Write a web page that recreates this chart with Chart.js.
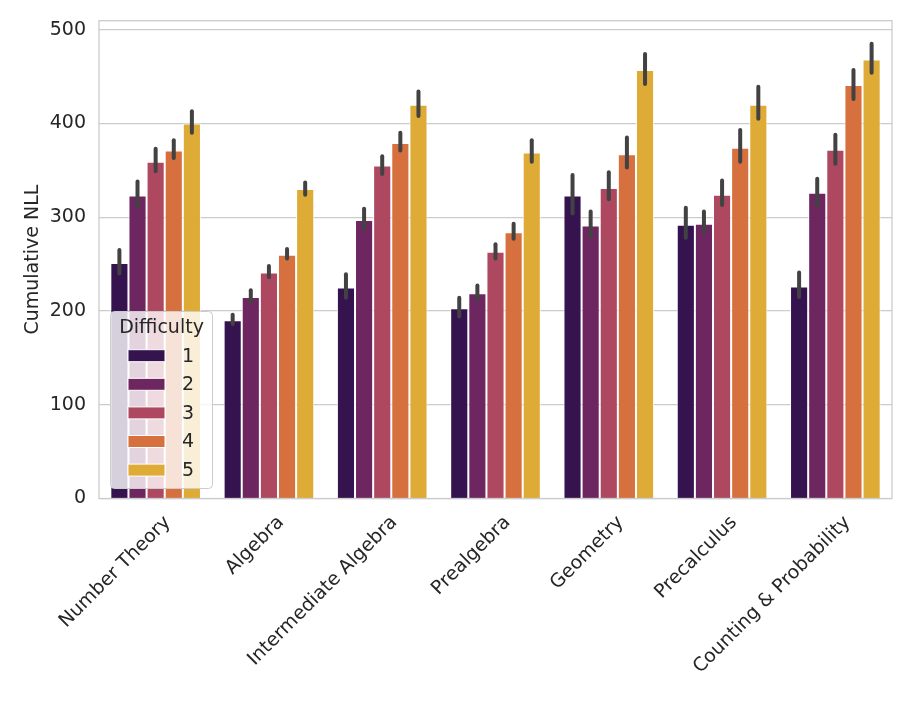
<!DOCTYPE html>
<html>
<head>
<meta charset="utf-8">
<script src="https://cdn.jsdelivr.net/npm/chart.js@4"></script>
<style>
  html, body { margin: 0; padding: 0; background: #fff; }
</style>
</head>
<body>
<canvas id="myChart" width="914" height="703"></canvas>
<script>
const categories = ["Number Theory", "Algebra", "Intermediate Algebra", "Prealgebra", "Geometry", "Precalculus", "Counting & Probability"];
const difficulties = ["1", "2", "3", "4", "5"];
const colors = ["#34134f", "#6e2661", "#ad4860", "#d6703f", "#dfab37"];
const yTicks = [0, 100, 200, 300, 400, 500];

// mean cumulative NLL per difficulty
const level1 = [251, 190, 225, 203, 323, 292, 226];
const level2 = [323, 215, 297, 219, 291, 293, 326];
const level3 = [359, 241, 355, 263, 331, 324, 372];
const level4 = [371, 260, 379, 284, 367, 374, 441];
const level5 = [400, 330, 420, 369, 457, 420, 468];

// confidence interval ends
const low1 = [240, 186, 214, 194, 304, 278, 215];
const high1 = [265, 196, 239, 214, 345, 310, 241];
const low2 = [311, 209, 287, 212, 279, 284, 312];
const high2 = [338, 222, 309, 227, 306, 306, 341];
const low3 = [349, 236, 346, 256, 319, 313, 357];
const high3 = [373, 248, 365, 271, 348, 339, 388];
const low4 = [363, 256, 371, 277, 353, 359, 426];
const high4 = [382, 266, 390, 293, 385, 393, 457];
const low5 = [390, 324, 408, 359, 442, 405, 454];
const high5 = [413, 337, 434, 382, 474, 439, 485];

const means = [level1, level2, level3, level4, level5];
const lows = [low1, low2, low3, low4, low5];
const highs = [high1, high2, high3, high4, high5];

const FONT = "'DejaVu Sans', sans-serif";
const TEXT = "#262626";
const FS = 19;

const datasets = difficulties.map((d, i) => ({
    label: d,
    data: means[i],
    backgroundColor: colors[i],
    borderColor: "rgba(255,255,255,0.85)",
    borderWidth: 1,
    categoryPercentage: 0.8,
    barPercentage: 1.0,
}));

// frame around the axes like seaborn whitegrid
const framePlugin = {
    id: "frame",
    afterDatasetsDraw(chart) {
        const { ctx, chartArea: a } = chart;
        ctx.save();
        ctx.strokeStyle = "#cccccc";
        ctx.lineWidth = 1.3;
        ctx.strokeRect(a.left, a.top, a.right - a.left, a.bottom - a.top);
        ctx.restore();
    },
};

const errorBarPlugin = {
    id: "errorBars",
    afterDatasetsDraw(chart) {
        const ctx = chart.ctx;
        const yScale = chart.scales.y;
        ctx.save();
        ctx.strokeStyle = "#424242";
        ctx.lineWidth = 4;
        ctx.lineCap = "round";
        chart.data.datasets.forEach((ds, i) => {
            const meta = chart.getDatasetMeta(i);
            meta.data.forEach((bar, j) => {
                ctx.beginPath();
                ctx.moveTo(bar.x, yScale.getPixelForValue(lows[i][j]));
                ctx.lineTo(bar.x, yScale.getPixelForValue(highs[i][j]));
                ctx.stroke();
            });
        });
        ctx.restore();
    },
};

const legendPlugin = {
    id: "insideLegend",
    afterDraw(chart) {
        const ctx = chart.ctx;
        const x = 110.5, y = 311.5, w = 102, h = 177;
        ctx.save();
        ctx.beginPath();
        ctx.roundRect(x, y, w, h, 4);
        ctx.fillStyle = "rgba(255,255,255,0.8)";
        ctx.fill();
        ctx.strokeStyle = "#cccccc";
        ctx.lineWidth = 1;
        ctx.stroke();

        ctx.fillStyle = TEXT;
        ctx.font = FS + "px " + FONT;
        ctx.textAlign = "center";
        ctx.textBaseline = "middle";
        ctx.fillText("Difficulty", x + w / 2, 328);

        ctx.textAlign = "left";
        chart.data.datasets.forEach((ds, i) => {
            const cy = 355.7 + i * 28.6;
            ctx.fillStyle = ds.backgroundColor;
            ctx.fillRect(128, cy - 6, 37, 12);
            ctx.strokeStyle = "#ffffff";
            ctx.lineWidth = 1;
            ctx.strokeRect(128, cy - 6, 37, 12);
            ctx.fillStyle = TEXT;
            ctx.fillText(ds.label, 182, cy + 1);
        });
        ctx.restore();
    },
};

const config = {
    type: "bar",
    data: { labels: categories, datasets },
    options: {
        responsive: false,
        animation: false,
        layout: { padding: { top: 20.7, right: 22, left: 0, bottom: 0 } },
        plugins: {
            legend: { display: false },
            tooltip: { enabled: false },
        },
        scales: {
            x: {
                grid: { display: false },
                border: { display: false },
                ticks: {
                    autoSkip: false,
                    minRotation: 45,
                    maxRotation: 45,
                    labelOffset: 12,
                    padding: 5,
                    color: TEXT,
                    font: { family: FONT, size: FS },
                },
                afterFit: (s) => { s.height = 204.5; },
            },
            y: {
                min: 0,
                max: 509.5,
                grid: { color: "#cccccc", lineWidth: 1.2, drawTicks: false },
                border: { display: false },
                afterBuildTicks: (s) => { s.ticks = yTicks.map((v) => ({ value: v })); },
                ticks: {
                    padding: 13,
                    color: TEXT,
                    font: { family: FONT, size: FS },
                },
                title: {
                    display: true,
                    text: "Cumulative NLL",
                    color: TEXT,
                    font: { family: FONT, size: FS },
                    padding: { top: 22, bottom: 0 },
                },
                afterFit: (s) => {
                    s.width = 99;
                    s.paddingTop = 0;
                    s.paddingBottom = 0;
                },
            },
        },
    },
    plugins: [framePlugin, errorBarPlugin, legendPlugin],
};

new Chart(document.getElementById("myChart"), config);
</script>
</body>
</html>
